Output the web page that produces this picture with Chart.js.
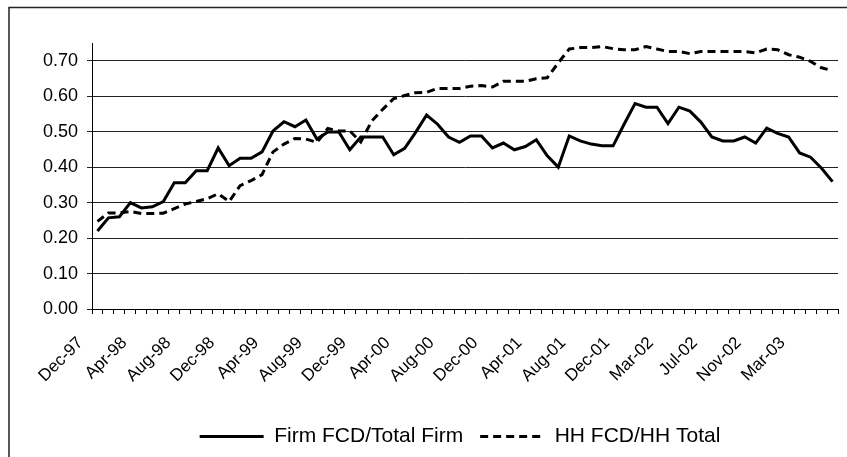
<!DOCTYPE html>
<html>
<head>
<meta charset="utf-8">
<script src="https://cdn.jsdelivr.net/npm/chart.js@4.4.1/dist/chart.umd.min.js"></script>
<style>
    body { margin: 0; background: #fff; }
    #wrap { width: 847px; height: 457px; position: relative; }
</style>
</head>
<body>
<div id="wrap"><canvas id="fcdChart"></canvas></div>
<script>
// month labels (the source sheet has one extra row before Mar-02)
const months = [
    'Dec-97',
    'Jan-98', 'Feb-98', 'Mar-98', 'Apr-98', 'May-98', 'Jun-98', 'Jul-98', 'Aug-98', 'Sep-98', 'Oct-98', 'Nov-98', 'Dec-98',
    'Jan-99', 'Feb-99', 'Mar-99', 'Apr-99', 'May-99', 'Jun-99', 'Jul-99', 'Aug-99', 'Sep-99', 'Oct-99', 'Nov-99', 'Dec-99',
    'Jan-00', 'Feb-00', 'Mar-00', 'Apr-00', 'May-00', 'Jun-00', 'Jul-00', 'Aug-00', 'Sep-00', 'Oct-00', 'Nov-00', 'Dec-00',
    'Jan-01', 'Feb-01', 'Mar-01', 'Apr-01', 'May-01', 'Jun-01', 'Jul-01', 'Aug-01', 'Sep-01', 'Oct-01', 'Nov-01', 'Dec-01',
    'Jan-02', 'Feb-02', 'Feb-02', 'Mar-02', 'Apr-02', 'May-02', 'Jun-02', 'Jul-02', 'Aug-02', 'Sep-02', 'Oct-02', 'Nov-02', 'Dec-02',
    'Jan-03', 'Feb-03', 'Mar-03', 'Apr-03', 'May-03', 'Jun-03'
];

const firmRatio = [
    0.22, 0.257, 0.26, 0.30, 0.285, 0.288, 0.303, 0.356, 0.356, 0.39, 0.39, 0.454, 0.404,
    0.425, 0.425, 0.443, 0.502, 0.528, 0.514, 0.533, 0.479, 0.499, 0.499, 0.449, 0.485,
    0.485, 0.485, 0.435, 0.453, 0.498, 0.547, 0.521, 0.485, 0.47, 0.488, 0.488, 0.454,
    0.468, 0.449, 0.458, 0.477, 0.432, 0.40, 0.488, 0.474, 0.465, 0.46, 0.46, 0.521,
    0.579, 0.569, 0.569, 0.523, 0.569, 0.558, 0.527, 0.485, 0.474, 0.474, 0.485, 0.468,
    0.51, 0.495, 0.485, 0.44, 0.428, 0.397, 0.359
];

const hhRatio = [
    0.247, 0.271, 0.271, 0.275, 0.269, 0.269, 0.27, 0.283, 0.296, 0.303, 0.311, 0.325, 0.303,
    0.348, 0.362, 0.379, 0.443, 0.465, 0.481, 0.479, 0.47, 0.509, 0.502, 0.502, 0.471,
    0.53, 0.563, 0.593, 0.602, 0.61, 0.611, 0.622, 0.622, 0.622, 0.628, 0.63, 0.626,
    0.642, 0.642, 0.642, 0.649, 0.652, 0.694, 0.733, 0.737, 0.737, 0.74, 0.734, 0.731,
    0.731, 0.74, 0.733, 0.726, 0.726, 0.72, 0.726, 0.726, 0.726, 0.726, 0.726, 0.722,
    0.733, 0.731, 0.717, 0.71, 0.698, 0.68, 0.672
];

const yTicks = [0, 0.1, 0.2, 0.3, 0.4, 0.5, 0.6, 0.7];

// outer frame, cut off at right and bottom like the original
const framePlugin = {
    id: 'frame',
    beforeDraw(chart) {
        const ctx = chart.ctx;
        ctx.save();
        ctx.strokeStyle = '#222';
        ctx.lineWidth = 1.5;
        ctx.strokeRect(9, 7.5, 1000, 1000);
        ctx.restore();
    },
    afterLayout(chart) {
        // legend sits a bit right of centre in the original
        if (chart.legend) {
            chart.legend.left += 22;
            chart.legend.right += 22;
        }
    }
};

const font = "'Liberation Sans', Arial, sans-serif";

new Chart(document.getElementById('fcdChart'), {
    type: 'line',
    data: {
        labels: months,
        datasets: [{
            label: 'Firm FCD/Total Firm',
            data: firmRatio,
            borderColor: '#000',
            backgroundColor: '#000',
            borderWidth: 3,
            pointRadius: 0,
            tension: 0
        }, {
            label: 'HH FCD/HH Total',
            data: hhRatio,
            borderColor: '#000',
            backgroundColor: '#000',
            borderWidth: 3,
            borderDash: [8, 5],
            pointRadius: 0,
            tension: 0
        }]
    },
    options: {
        responsive: true,
        maintainAspectRatio: false,
        animation: false,
        layout: {
            padding: { top: 43, left: 38, right: 9, bottom: 0 }
        },
        plugins: {
            legend: {
                position: 'bottom',
                labels: {
                    usePointStyle: true,
                    pointStyle: 'line',
                    pointStyleWidth: 64,
                    color: '#000',
                    padding: 17,
                    font: { family: font, size: 21 },
                    generateLabels: function(chart) {
                        const items = Chart.defaults.plugins.legend.labels.generateLabels(chart);
                        items.forEach(item => {
                            const ds = chart.data.datasets[item.datasetIndex];
                            item.lineDash = ds.borderDash || [];
                            item.lineWidth = 3;
                        });
                        return items;
                    }
                }
            },
            tooltip: { enabled: false }
        },
        scales: {
            x: {
                offset: true,
                grid: {
                    offset: true,
                    drawOnChartArea: false,
                    drawTicks: true,
                    tickLength: 5,
                    color: '#000'
                },
                border: { display: true, color: '#000', width: 1 },
                ticks: {
                    autoSkip: false,
                    minRotation: 45,
                    maxRotation: 45,
                    padding: 19,
                    labelOffset: -17,
                    color: '#000',
                    font: { family: font, size: 17 },
                    callback: function(value, index) {
                        return index % 4 === 0 ? months[index] : '';
                    }
                },
                afterFit: function(scale) {
                    scale.height = 100;
                    scale.paddingLeft = 0;
                    scale.paddingRight = 0;
                }
            },
            y: {
                min: 0,
                max: 0.75,
                grid: {
                    color: '#222',
                    lineWidth: 1,
                    drawTicks: true,
                    tickLength: 5
                },
                border: { display: true, color: '#000', width: 1 },
                ticks: {
                    padding: 9,
                    color: '#000',
                    font: { family: font, size: 18 },
                    callback: function(value) {
                        return value.toFixed(2);
                    }
                },
                afterBuildTicks: function(scale) {
                    scale.ticks = yTicks.map(v => ({ value: v }));
                },
                afterFit: function(scale) {
                    scale.width = 54;
                }
            }
        }
    },
    plugins: [framePlugin]
});
</script>
</body>
</html>
